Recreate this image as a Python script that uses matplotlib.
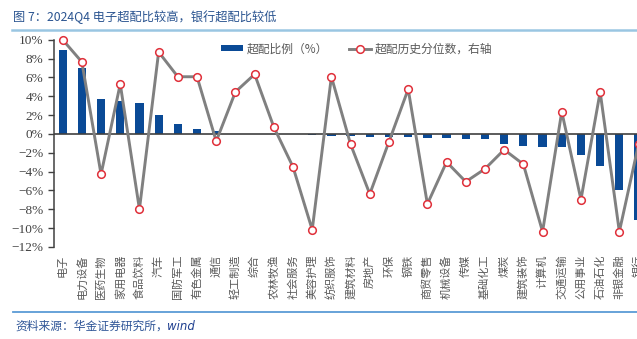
import matplotlib
matplotlib.use("Agg")
import matplotlib.pyplot as plt
from matplotlib.patches import Patch
from matplotlib.lines import Line2D

plt.rcParams['font.family'] = ['Noto Sans CJK SC', 'DejaVu Sans']
plt.rcParams['axes.unicode_minus'] = True

industries = ['电子', '电力设备', '医药生物', '家用电器', '食品饮料', '汽车',
              '国防军工', '有色金属', '通信', '轻工制造', '综合', '农林牧渔',
              '社会服务', '美容护理', '纺织服饰', '建筑材料', '房地产', '环保',
              '钢铁', '商贸零售', '机械设备', '传媒', '基础化工', '煤炭',
              '建筑装饰', '计算机', '交通运输', '公用事业', '石油石化',
              '非银金融', '银行']

# overweight ratio, %
overweight = [8.9, 7.0, 3.7, 3.45, 3.27, 2.0, 1.06, 0.57, 0.3, 0.02, 0.01,
              -0.02, -0.03, -0.1, -0.17, -0.2, -0.35, -0.3, -0.32, -0.46,
              -0.46, -0.56, -0.56, -1.12, -1.3, -1.42, -1.42, -2.2, -3.4,
              -6.0, -9.15]

# historical percentile of overweight ratio (right axis)
percentile = [100.0, 88.4, 29.9, 76.9, 11.7, 93.6, 80.7, 80.7, 47.1, 72.8,
              82.0, 54.5, 33.7, 1.0, 80.7, 45.5, 19.6, 46.9, 74.2, 14.4,
              36.3, 26.0, 32.7, 42.7, 35.1, 0.0, 62.5, 16.7, 72.8, 0.0, 45.5]

bar_color = '#0a4a96'
line_color = '#808080'
marker_edge = '#e0303a'
text_grey = '#595959'

fig = plt.figure(figsize=(6.37, 3.39), dpi=100)
ax = fig.add_axes([0.0848, 0.2714, 0.9342, 0.6115])
x = list(range(len(industries)))

ax.bar(x, overweight, width=0.43, color=bar_color, zorder=2)
ax.axhline(0, color='#404040', lw=1.2, zorder=3)
ax.set_xlim(-0.45, len(industries) - 0.45)
ax.set_ylim(-12, 10)
ax.set_yticks(range(-12, 11, 2))
ax.set_yticklabels([f'{v}%'.replace('-', '\u2212') for v in range(-12, 11, 2)],
                   family='Liberation Serif', fontsize=9.5, color='#404040')
ax.tick_params(axis='y', direction='out', length=4, width=1,
               color='#404040', pad=3.5)
ax.set_xticks(x)
ax.set_xticklabels(industries, rotation=90, fontsize=8, color=text_grey,
                   va='top', ha='center')
ax.tick_params(axis='x', length=0, pad=5.5)
for side in ['top', 'right', 'bottom']:
    ax.spines[side].set_visible(False)
ax.spines['left'].set_color('#404040')
ax.spines['left'].set_linewidth(1.1)

ax2 = ax.twinx()
ax2.plot(x, percentile, color=line_color, lw=2.1, marker='o', ms=5.5,
         mfc='white', mec=marker_edge, mew=1.1, clip_on=False, zorder=4)
ax2.set_ylim(-8, 100)
ax2.set_yticks([])
for side in ['top', 'right', 'bottom', 'left']:
    ax2.spines[side].set_visible(False)

handles = [
    Patch(facecolor=bar_color, edgecolor='none'),
    Line2D([], [], color=line_color, lw=2.1, marker='o', ms=5.5,
           mfc='white', mec=marker_edge, mew=1.1),
]
leg = ax2.legend(handles, ['超配比例（%）', '超配历史分位数，右轴'],
                 loc='center', bbox_to_anchor=(0.508, 0.955), ncol=2,
                 frameon=False, fontsize=8.5, handlelength=1.9,
                 handleheight=0.45, columnspacing=1.8, handletextpad=0.25)
for t in leg.get_texts():
    t.set_color(text_grey)

# header and footer
fig.text(0.02, 0.948, '图 7：2024Q4 电子超配比较高，银行超配比较低',
         fontsize=8.8, color='#2a5490', va='center', ha='left')
fig.add_artist(Line2D([0.019, 1.0], [0.911, 0.911], color='#9ac6e2', lw=1.8))
fig.add_artist(Line2D([0.021, 1.0], [0.081, 0.081], color='#5b9bd5', lw=1.3))
fig.text(0.024, 0.038, '资料来源：华金证券研究所，', fontsize=8.5,
         color='#2f5597', style='italic', va='center', ha='left')
fig.text(0.262, 0.038, 'wind', fontsize=8.5, color='#1f3f8f', style='italic',
         va='center', ha='left', family='DejaVu Sans')

fig.savefig('out.png', dpi=100)
